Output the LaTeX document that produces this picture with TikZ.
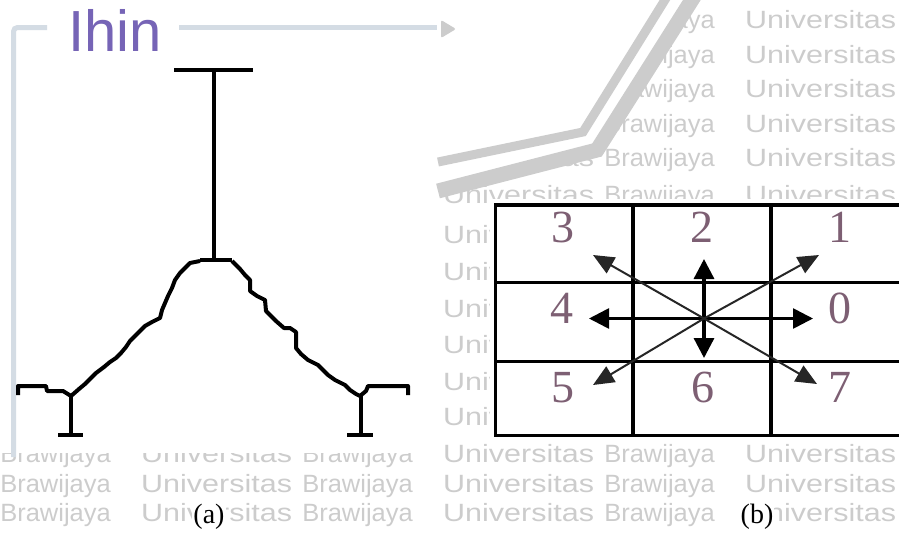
\documentclass[tikz,border=0pt]{standalone}
\usepackage{graphicx}
\usepackage{fontspec}
\setmainfont{Liberation Serif}
\newfontfamily\wmfont{Liberation Sans}
\usetikzlibrary{arrows.meta}
\definecolor{wmgray}{RGB}{204,204,204}
\definecolor{framegray}{RGB}{212,220,228}
\definecolor{titlecol}{RGB}{118,100,182}
\definecolor{digitcol}{RGB}{125,95,115}

\begin{document}
\begin{tikzpicture}[x=1pt, y=-1pt,
  wmword/.style={font=\wmfont\fontsize{25}{26}\selectfont, text=wmgray, inner sep=0},
  skel/.style={line width=4pt, line join=round},
  cell/.style={line width=3.3pt},
  dir/.style={line width=2.7pt, -{Triangle[length=20pt,width=20pt]}},
  diag/.style={line width=2pt, draw=black!85, -{Triangle[length=21pt,width=18pt]}},
  digit/.style={font=\fontsize{46}{48}\selectfont, text=digitcol, anchor=base, inner sep=0},
  caption/.style={font=\fontsize{28}{30}\selectfont, anchor=base, fill=white, inner sep=1pt}]
\useasboundingbox (0,0) rectangle (899,533);
\clip (0,0) rectangle (899,533);

\foreach \yy [count=\r] in {28,63,97,132,166,203,243,280,317,353,390,425,462,492,521}
  \foreach \xx [count=\c] in {111,413,715} {
    \node[wmword, anchor=base east] (wb\r-\c) at (\xx,\yy) {\scalebox{1.02}[1]{Brawijaya}};
    \node[wmword, anchor=base west] (wu\r-\c) at (\xx+30,\yy) {\scalebox{1.22}[1]{Universitas}};
  }
\fill[white] (0,0) rectangle (438,453);
\fill[white] (438,0) -- (700,0) -- (597,150) -- (438,191) -- cycle;
\fill[white] (490,199) rectangle (899,439);
\draw[wmgray, line width=9pt] (438,162) -- (583,132) -- (668,-5);
\draw[wmgray, line width=15pt] (438,191) -- (597,150) -- (695,-5);
\fill[wmgray, rounded corners=2pt] (441,20) -- (456,29) -- (441,38) -- cycle;

\draw[framegray, line width=5pt, rounded corners=4pt] (47,27.5) -- (13.5,27.5) -- (13.5,457);
\draw[framegray, line width=5pt] (179,27.5) -- (437,27.5);
\node[font=\wmfont\fontsize{58}{60}\selectfont, text=titlecol, anchor=base west, inner sep=0] (title) at (68,51) {Ihin};

\draw[skel] (174,69.5) -- (253,69.5);
\draw[skel] (213.5,69.5) -- (213.5,260);
\draw[skel] (200,260) -- (232,260);
\draw[skel] (200,261) -- (190,263) -- (185,268) -- (180,273) -- (175,280) -- (172,288)
  -- (168,296) -- (165,303) -- (162,310) -- (160,318) -- (152,322) -- (145,326)
  -- (140,331) -- (135,336) -- (130,341) -- (126,347) -- (121,353) -- (116,358)
  -- (110,362) -- (104,367) -- (96,373) -- (90,379) -- (85,384) -- (79,389) -- (71,396);
\draw[skel] (71,396) -- (63,391) -- (47,391) -- (46,386) -- (18,386) -- (18,395);
\draw[skel] (70.5,396) -- (70.5,434.5);
\draw[skel] (58,434.5) -- (83,434.5);
\draw[skel] (232,261) -- (240,269) -- (245,275) -- (250,280) -- (250,291) -- (257,296)
  -- (265,300) -- (266,311) -- (271,316) -- (276,321) -- (284,328) -- (290,328)
  -- (296,332) -- (296,348) -- (301,354) -- (308,360) -- (318,365) -- (323,370)
  -- (328,375) -- (335,380) -- (345,385) -- (350,390) -- (356,394) -- (360,396);
\draw[skel] (360,396) -- (366,391) -- (368,386) -- (408,386) -- (408,395);
\draw[skel] (360.5,396) -- (360.5,434.5);
\draw[skel] (347,434.5) -- (373,434.5);

\draw[cell] (495.5,205) rectangle (912,435.5);
\draw[cell] (633,205) -- (633,435.5);
\draw[cell] (771,205) -- (771,435.5);
\draw[cell] (495.5,282.3) -- (912,282.3);
\draw[cell] (495.5,361.7) -- (912,361.7);

\coordinate (ctr) at (704,318.5);
\coordinate (d0) at (813,318.5);
\coordinate (d1) at (819,255);
\coordinate (d2) at (704,259);
\coordinate (d3) at (593,255);
\coordinate (d4) at (589,318.5);
\coordinate (d5) at (593,385);
\coordinate (d6) at (704,358);
\coordinate (d7) at (817,384);
\draw[dir] (ctr) -- (d0);
\draw[dir] (ctr) -- (d4);
\draw[dir, line width=3.3pt] (ctr) -- (d2);
\draw[dir, line width=3.3pt] (ctr) -- (d6);
\foreach \k in {1,3,5,7}
  \draw[diag] (ctr) -- (d\k);

\node[digit] (n3) at (563,242) {3};
\node[digit] (n2) at (702,242) {2};
\node[digit] (n1) at (840,242) {1};
\node[digit] (n4) at (562,323) {4};
\node[digit] (n0) at (840,323) {0};
\node[digit] (n5) at (563,402) {5};
\node[digit] (n6) at (703,402) {6};
\node[digit] (n7) at (840,402) {7};

\node[caption] (capa) at (209,523) {(a)};
\node[caption] (capb) at (757,523) {(b)};
\end{tikzpicture}
\end{document}
